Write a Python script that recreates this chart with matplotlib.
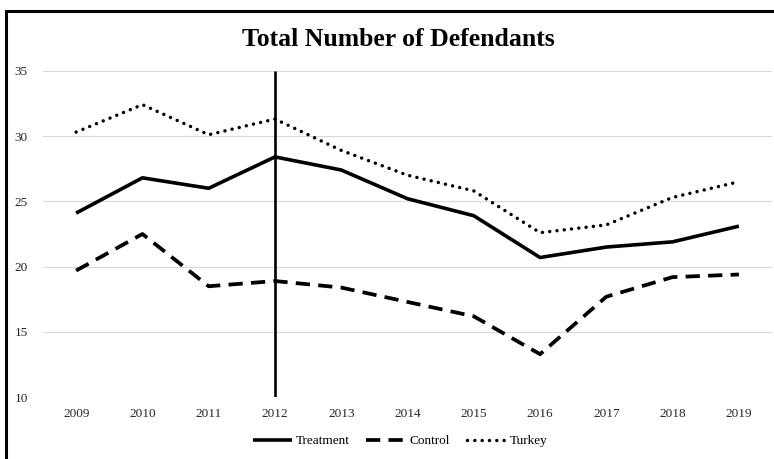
import matplotlib
matplotlib.use("Agg")
import matplotlib.pyplot as plt
from matplotlib.patches import Rectangle

years = ["2009", "2010", "2011", "2012", "2013", "2014", "2015", "2016", "2017", "2018", "2019"]
treatment = [24.1, 26.8, 26.0, 28.4, 27.4, 25.2, 23.9, 20.7, 21.5, 21.9, 23.1]
control = [19.7, 22.5, 18.5, 18.9, 18.4, 17.3, 16.2, 13.3, 17.7, 19.2, 19.4]
turkey = [30.3, 32.4, 30.1, 31.3, 28.9, 27.0, 25.8, 22.6, 23.2, 25.3, 26.5]
yticks = [10, 15, 20, 25, 30, 35]
event_year = "2012"

plt.rcParams['font.family'] = ['Liberation Serif', 'DejaVu Serif']

W, H = 774, 459
fig = plt.figure(figsize=(W / 100, H / 100), dpi=100)
ax = fig.add_axes([43 / W, 1 - 397.3 / H, (772 - 43) / W, (397.3 - 70.7) / H])

x = list(range(len(years)))
ax.plot(x, treatment, color='black', lw=2.6, solid_capstyle='butt', label='Treatment', zorder=3)
ax.plot(x, control, color='black', lw=2.7, dashes=(3.8, 2.2), dash_capstyle='butt', label='Control', zorder=3)
ax.plot(x, turkey, color='black', lw=2.5, dashes=(0.01, 2.1), dash_capstyle='round', label='Turkey', zorder=3)

ev = years.index(event_year)
ax.plot([ev, ev], [yticks[0], yticks[-1]], color='black', lw=1.9, zorder=4, solid_capstyle='butt')

ax.set_xlim(-0.5, len(years) - 0.5)
ax.set_ylim(yticks[0], yticks[-1])
ax.set_yticks(yticks)
ax.set_xticks(x)
ax.set_xticklabels(years)
ax.tick_params(axis='both', length=0, labelsize=9.5, labelcolor='#262626')
ax.tick_params(axis='y', pad=11)
ax.tick_params(axis='x', pad=8)
for s in ax.spines.values():
    s.set_visible(False)
ax.yaxis.grid(True, color='#d9d9d9', lw=0.8)
ax.set_axisbelow(True)

fig.text(0.515, 1 - 40 / H, "Total Number of Defendants", ha='center', va='center',
         fontsize=18.5, fontweight='bold', color='black')

leg = fig.legend(loc='center', bbox_to_anchor=(400 / W, 1 - 441 / H), ncol=3, frameon=False,
                 fontsize=9.5, handlelength=3.0, handletextpad=0.25, columnspacing=1.3)

fig.patches.append(Rectangle((6 / W, -0.1), 1.2, (1 - 10.5 / H) + 0.1, transform=fig.transFigure,
                             fill=False, edgecolor='black', lw=2.2, zorder=10))

fig.savefig("out.png", dpi=100)
